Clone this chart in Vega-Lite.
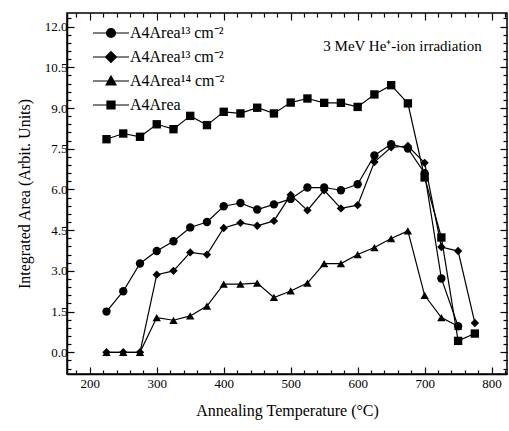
{
  "$schema": "https://vega.github.io/schema/vega-lite/v6.json",
  "width": 440,
  "height": 361,
  "autosize": "none",
  "padding": {"left": 67, "top": 13, "right": 2, "bottom": 57},
  "config": {
    "font": "Liberation Serif",
    "view": {"stroke": "black", "strokeWidth": 1.5},
    "axis": {
      "domainColor": "black", "tickColor": "black", "labelColor": "black", "titleColor": "black",
      "labelFont": "Liberation Serif", "titleFont": "Liberation Serif",
      "labelFontSize": 13, "titleFontSize": 16, "titleFontWeight": "normal",
      "grid": false, "tickWidth": 1.2
    }
  },
  "resolve": {"scale": {"shape": "independent"}, "axis": {"x": "independent", "y": "independent"}},
  "data": {"values": [
    {"t":225,"v":7.85,"s":"s4"},{"t":250,"v":8.06,"s":"s4"},{"t":275,"v":7.94,"s":"s4"},{"t":300,"v":8.4,"s":"s4"},{"t":325,"v":8.22,"s":"s4"},{"t":350,"v":8.71,"s":"s4"},{"t":375,"v":8.37,"s":"s4"},{"t":400,"v":8.86,"s":"s4"},{"t":425,"v":8.8,"s":"s4"},{"t":450,"v":9.01,"s":"s4"},{"t":475,"v":8.8,"s":"s4"},{"t":500,"v":9.2,"s":"s4"},{"t":525,"v":9.35,"s":"s4"},{"t":550,"v":9.19,"s":"s4"},{"t":575,"v":9.19,"s":"s4"},{"t":600,"v":9.04,"s":"s4"},{"t":625,"v":9.5,"s":"s4"},{"t":650,"v":9.84,"s":"s4"},{"t":675,"v":9.17,"s":"s4"},{"t":700,"v":6.44,"s":"s4"},{"t":725,"v":4.23,"s":"s4"},{"t":750,"v":0.42,"s":"s4"},{"t":775,"v":0.69,"s":"s4"},
    {"t":225,"v":0,"s":"s3"},{"t":250,"v":0,"s":"s3"},{"t":275,"v":0,"s":"s3"},{"t":300,"v":1.28,"s":"s3"},{"t":325,"v":1.18,"s":"s3"},{"t":350,"v":1.34,"s":"s3"},{"t":375,"v":1.7,"s":"s3"},{"t":400,"v":2.51,"s":"s3"},{"t":425,"v":2.51,"s":"s3"},{"t":450,"v":2.55,"s":"s3"},{"t":475,"v":2.02,"s":"s3"},{"t":500,"v":2.26,"s":"s3"},{"t":525,"v":2.55,"s":"s3"},{"t":550,"v":3.27,"s":"s3"},{"t":575,"v":3.27,"s":"s3"},{"t":600,"v":3.6,"s":"s3"},{"t":625,"v":3.86,"s":"s3"},{"t":650,"v":4.19,"s":"s3"},{"t":675,"v":4.47,"s":"s3"},{"t":700,"v":2.1,"s":"s3"},{"t":725,"v":1.28,"s":"s3"},{"t":750,"v":0.96,"s":"s3"},
    {"t":225,"v":1.5,"s":"s1"},{"t":250,"v":2.25,"s":"s1"},{"t":275,"v":3.27,"s":"s1"},{"t":300,"v":3.73,"s":"s1"},{"t":325,"v":4.09,"s":"s1"},{"t":350,"v":4.6,"s":"s1"},{"t":375,"v":4.8,"s":"s1"},{"t":400,"v":5.38,"s":"s1"},{"t":425,"v":5.5,"s":"s1"},{"t":450,"v":5.26,"s":"s1"},{"t":475,"v":5.45,"s":"s1"},{"t":500,"v":5.65,"s":"s1"},{"t":525,"v":6.07,"s":"s1"},{"t":550,"v":6.07,"s":"s1"},{"t":575,"v":5.97,"s":"s1"},{"t":600,"v":6.19,"s":"s1"},{"t":625,"v":7.25,"s":"s1"},{"t":650,"v":7.67,"s":"s1"},{"t":675,"v":7.51,"s":"s1"},{"t":700,"v":6.6,"s":"s1"},{"t":725,"v":2.72,"s":"s1"},{"t":750,"v":0.96,"s":"s1"},
    {"t":225,"v":0,"s":"s2"},{"t":250,"v":0,"s":"s2"},{"t":275,"v":0,"s":"s2"},{"t":300,"v":2.86,"s":"s2"},{"t":325,"v":3.0,"s":"s2"},{"t":350,"v":3.68,"s":"s2"},{"t":375,"v":3.6,"s":"s2"},{"t":400,"v":4.58,"s":"s2"},{"t":425,"v":4.77,"s":"s2"},{"t":450,"v":4.66,"s":"s2"},{"t":475,"v":4.84,"s":"s2"},{"t":500,"v":5.8,"s":"s2"},{"t":525,"v":5.23,"s":"s2"},{"t":550,"v":5.97,"s":"s2"},{"t":575,"v":5.3,"s":"s2"},{"t":600,"v":5.42,"s":"s2"},{"t":625,"v":7.01,"s":"s2"},{"t":650,"v":7.55,"s":"s2"},{"t":675,"v":7.6,"s":"s2"},{"t":700,"v":6.98,"s":"s2"},{"t":725,"v":3.88,"s":"s2"},{"t":750,"v":3.73,"s":"s2"},{"t":775,"v":1.08,"s":"s2"}
  ]},
  "layer": [
    {
      "mark": {"type": "line", "color": "black", "strokeWidth": 1.2},
      "encoding": {
        "x": {"field": "t", "type": "quantitative", "scale": {"domain": [166, 823], "nice": false, "zero": false},
          "axis": {"title": "Annealing Temperature (°C)", "orient": "bottom",
            "values": [200,300,400,500,600,700,800],
            "labelOverlap": false, "labelBound": false, "labelFlush": false,
            "tickSize": -7,
            "labelPadding": 10, "titlePadding": 12, "domainWidth": 1.5}},
        "y": {"field": "v", "type": "quantitative", "scale": {"domain": [-0.8, 12.5], "nice": false, "zero": false},
          "axis": {"title": "Integrated Area (Arbit. Units)", "orient": "left",
            "values": [0,1.5,3,4.5,6,7.5,9,10.5,12], "format": ".1f",
            "labelOverlap": false, "labelBound": false, "labelFlush": false,
            "tickSize": -7,
            "labelPadding": 7, "titlePadding": 12, "domainWidth": 1.5}},
        "detail": {"field": "s"}
      }
    },
    {
      "mark": {"type": "point", "filled": true, "color": "black", "opacity": 1, "size": 70},
      "encoding": {
        "x": {"field": "t", "type": "quantitative",
          "axis": {"orient": "bottom", "title": null, "labels": false, "domain": false, "tickSize": -4,
            "values": [180,220,240,260,280,320,340,360,380,420,440,460,480,520,540,560,580,620,640,660,680,720,740,760,780,820]}},
        "y": {"field": "v", "type": "quantitative",
          "axis": {"orient": "left", "title": null, "labels": false, "domain": false, "tickSize": -4,
            "values": [-0.6,-0.3,0.3,0.6,0.9,1.2,1.8,2.1,2.4,2.7,3.3,3.6,3.9,4.2,4.8,5.1,5.4,5.7,6.3,6.6,6.9,7.2,7.8,8.1,8.4,8.7,9.3,9.6,9.9,10.2,10.8,11.1,11.4,11.7,12.3]}},
        "shape": {"field": "s", "type": "nominal",
          "scale": {"domain": ["s1","s2","s3","s4"], "range": ["circle","diamond","triangle-up","square"]},
          "legend": null}
      }
    },
    {
      "transform": [{"filter": "false"}],
      "mark": {"type": "point", "filled": false, "color": "black", "opacity": 1, "strokeWidth": 1.2},
      "encoding": {
        "x": {"field": "t", "type": "quantitative",
          "axis": {"orient": "top", "title": null, "labels": false, "domain": false, "tickSize": -7,
            "values": [200,300,400,500,600,700,800]}},
        "y": {"field": "v", "type": "quantitative",
          "axis": {"orient": "right", "title": null, "labels": false, "domain": false, "tickSize": -7,
            "values": [0,1.5,3,4.5,6,7.5,9,10.5,12]}},
        "shape": {"field": "s", "type": "nominal",
          "scale": {"domain": ["s1","s2","s3","s4"], "range": [
            "M-3.6,0L3.6,0M-0.9,0A0.9,0.9 0 1,0 0.9,0A0.9,0.9 0 1,0 -0.9,0M-0.41,-0.8L0.41,-0.8M-0.67,-0.6L0.67,-0.6M-0.81,-0.4L0.81,-0.4M-0.88,-0.2L0.88,-0.2M-0.88,0.2L0.88,0.2M-0.81,0.4L0.81,0.4M-0.67,0.6L0.67,0.6M-0.41,0.8L0.41,0.8",
            "M-3.6,0L3.6,0M-1.1,0L0,-1.1L1.1,0L0,1.1ZM-0.2,-0.9L0.2,-0.9M-0.4,-0.7L0.4,-0.7M-0.6,-0.5L0.6,-0.5M-0.8,-0.3L0.8,-0.3M-1,-0.1L1,-0.1M-1,0.1L1,0.1M-0.8,0.3L0.8,0.3M-0.6,0.5L0.6,0.5M-0.4,0.7L0.4,0.7M-0.2,0.9L0.2,0.9",
            "M-3.6,0L3.6,0M-1,0.8L0,-1L1,0.8ZM-0.11,-0.8L0.11,-0.8M-0.22,-0.6L0.22,-0.6M-0.33,-0.4L0.33,-0.4M-0.44,-0.2L0.44,-0.2M-0.67,0.2L0.67,0.2M-0.78,0.4L0.78,0.4M-0.89,0.6L0.89,0.6",
            "M-3.6,0L3.6,0M-0.8,-0.8L0.8,-0.8L0.8,0.8L-0.8,0.8ZM-0.8,-0.6L0.8,-0.6M-0.8,-0.4L0.8,-0.4M-0.8,-0.2L0.8,-0.2M-0.8,0.2L0.8,0.2M-0.8,0.4L0.8,0.4M-0.8,0.6L0.8,0.6"]},
          "legend": {"title": null, "orient": "none", "legendX": 36, "legendY": 12,
            "labelExpr": "datum.value == 's1' ? 'A4Area¹³ cm⁻²' : datum.value == 's2' ? 'A4Area¹³ cm⁻²' : datum.value == 's3' ? 'A4Area¹⁴ cm⁻²' : 'A4Area'",
            "labelFont": "Liberation Serif", "labelFontSize": 16, "labelColor": "black",
            "symbolSize": 100, "rowPadding": 8, "labelOffset": 11,
            "symbolStrokeColor": "black", "symbolStrokeWidth": 1.2,
            "encode": {"symbols": {"update": {"stroke": {"value": "black"}, "strokeWidth": {"value": 1.2}, "opacity": {"value": 1}}}}}}
      }
    },
    {
      "data": {"values": [{"t": 667, "v": 11.3, "label": "3 MeV He⁺-ion irradiation"}]},
      "mark": {"type": "text", "fontSize": 15, "font": "Liberation Serif", "color": "black"},
      "encoding": {
        "x": {"field": "t", "type": "quantitative",
          "axis": {"orient": "top", "title": null, "labels": false, "domain": false, "tickSize": -4,
            "values": [180,220,240,260,280,320,340,360,380,420,440,460,480,520,540,560,580,620,640,660,680,720,740,760,780,820]}},
        "y": {"field": "v", "type": "quantitative",
          "axis": {"orient": "right", "title": null, "labels": false, "domain": false, "tickSize": -4,
            "values": [-0.6,-0.3,0.3,0.6,0.9,1.2,1.8,2.1,2.4,2.7,3.3,3.6,3.9,4.2,4.8,5.1,5.4,5.7,6.3,6.6,6.9,7.2,7.8,8.1,8.4,8.7,9.3,9.6,9.9,10.2,10.8,11.1,11.4,11.7,12.3]}},
        "text": {"field": "label"}
      }
    }
  ]
}
